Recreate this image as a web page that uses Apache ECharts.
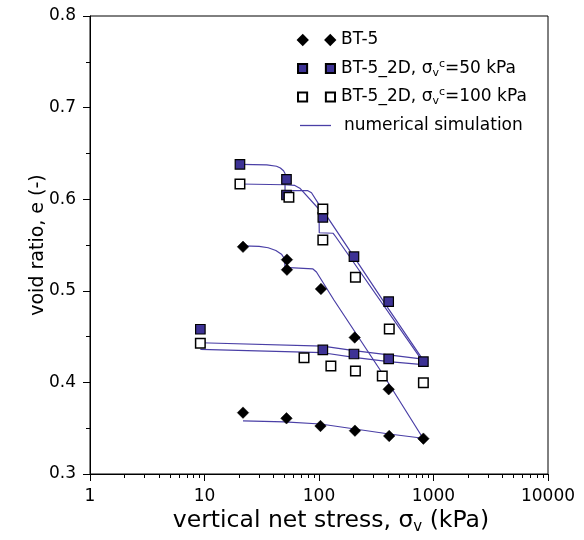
<!DOCTYPE html>
<html><head><meta charset="utf-8">
<script src="https://cdn.jsdelivr.net/npm/echarts@6/dist/echarts.min.js"></script>
<style>html,body{margin:0;padding:0;background:#fff}#c{width:584px;height:540px}</style>
</head><body><div id="c"></div>
<script>
// ---- data (stress in kPa, void ratio e) ----
const bt5Stress = [21.7, 52.5, 52.5, 104, 205, 406, 816, 410, 206, 103, 52, 21.7];
const bt5Void   = [0.548, 0.534, 0.523, 0.502, 0.449, 0.3925, 0.3386, 0.3415, 0.3473, 0.3524, 0.3608, 0.367];
const sq50Stress = [20.4, 52, 52, 108, 202, 406, 816, 406, 202, 108, 9.2];
const sq50Void   = [0.638, 0.6217, 0.6046, 0.5802, 0.5372, 0.4881, 0.4226, 0.4256, 0.431, 0.4354, 0.458];
const sq100Stress = [20.4, 54.6, 108, 108, 208, 411, 816, 357, 208, 127, 74, 9.2];
const sq100Void   = [0.6166, 0.6021, 0.5893, 0.5555, 0.5147, 0.4583, 0.3997, 0.407, 0.4124, 0.4179, 0.427, 0.4427];
// numerical simulation curves
const simBt5LoadX = [21.7, 30, 36, 42, 47, 50, 50.5, 88, 95, 135, 357, 810];
const simBt5LoadY = [0.549, 0.5485, 0.547, 0.544, 0.540, 0.535, 0.5255, 0.524, 0.5205, 0.49, 0.41, 0.339];
const simBt5UnloadX = [810, 410, 206, 103, 50, 21.7];
const simBt5UnloadY = [0.339, 0.3437, 0.3491, 0.3546, 0.357, 0.358];
const sim50LoadX = [20.4, 35, 42.6, 46, 49, 50.5, 50.5, 80, 86, 98.5, 202, 406, 810];
const sim50LoadY = [0.638, 0.6375, 0.636, 0.634, 0.631, 0.628, 0.6093, 0.6093, 0.607, 0.5955, 0.537, 0.48, 0.4245];
const sim100LoadX = [20.4, 50, 61.5, 68, 100, 100.5, 133, 140, 810];
const sim100LoadY = [0.6166, 0.6158, 0.615, 0.612, 0.589, 0.5634, 0.5628, 0.559, 0.4225];
const simUnloadAX = [810, 406, 202, 108, 9.2];
const simUnloadAY = [0.4255, 0.430, 0.4346, 0.4397, 0.4433];
const simUnloadBX = [810, 406, 202, 108, 9.2];
const simUnloadBY = [0.4195, 0.4226, 0.4274, 0.4324, 0.436];
// axis ticks
const xMajorTicks = [1, 10, 100, 1000, 10000];
const xMinorTicks = [2,3,4,5,6,7,8,9,20,30,40,50,60,70,80,90,200,300,400,500,600,700,800,900,2000,3000,4000,5000,6000,7000,8000,9000];
const yMin = 0.3, yMax = 0.8, yStep = 0.1;

const zip = (xs, ys) => xs.map((x, i) => [x, ys[i]]);
const FONT = 'DejaVu Sans';
const LINE_COLOR = '#4a3fa6';
const FILL_BLUE = '#3d3295';

const names = {
  bt5: 'BT-5',
  s50: 'BT-5_2D, σvc=50 kPa',
  s100: 'BT-5_2D, σvc=100 kPa',
  sim: 'numerical simulation'
};
const richNames = {};
richNames[names.bt5] = 'BT-5';
richNames[names.s50] = 'BT-5_2D, {s|σ}{sub|v}{sup|c}=50 kPa';
richNames[names.s100] = 'BT-5_2D, {s|σ}{sub|v}{sup|c}=100 kPa';
richNames[names.sim] = 'numerical simulation';

const LEG_FS = 17;
const richStyle = {
  s: {fontSize: LEG_FS, fontFamily: FONT, color: '#000', lineHeight: 20},
  sub: {fontSize: 11, fontFamily: FONT, color: '#000', verticalAlign: 'bottom', lineHeight: 20},
  sup: {fontSize: 11, fontFamily: FONT, color: '#000', verticalAlign: 'top', lineHeight: 20}
};

const simLine = (xs, ys) => ({
  type: 'line', name: names.sim, data: zip(xs, ys), symbol: 'none', smooth: false,
  lineStyle: {color: LINE_COLOR, width: 1.2}, itemStyle: {color: LINE_COLOR}, z: 2, silent: true
});

const ICON_DIAMOND = 'path://M0,4.75L4.75,0L9.5,4.75L4.75,9.5Z M27.5,4.75L32.25,0L37,4.75L32.25,9.5Z';
const ICON_SQUARE = 'path://M0,0H9V9H0Z M27.5,0H36.5V9H27.5Z';
const legendRow = (name, icon, centerY, extra) => Object.assign({
  orient: 'horizontal', left: 297, top: centerY - 10, itemWidth: 37, itemHeight: 9.5, itemGap: 0,
  data: [{name: name, icon: icon}],
  formatter: n => richNames[n],
  textStyle: {fontFamily: FONT, fontSize: LEG_FS, color: '#000', lineHeight: 20, rich: richStyle, padding: [0, 0, 0, 1]},
  selectedMode: false, padding: 0
}, extra || {});

const chart = echarts.init(document.getElementById('c'), null, {renderer: 'canvas'});
chart.setOption({
  animation: false,
  backgroundColor: '#fff',
  grid: {left: 90, right: 36, top: 16, bottom: 66, show: true, borderColor: '#000', borderWidth: 1,
    backgroundColor: 'transparent', outerBoundsMode: 'none', containLabel: false},
  xAxis: [{
    type: 'log', logBase: 10, min: 1, max: 10000,
    name: 'vertical net stress, {s|σ}{sub|v} (kPa)', nameLocation: 'middle', nameGap: 33, nameMoveOverlap: false,
    nameTextStyle: {fontFamily: FONT, fontSize: 23.5, color: '#000', lineHeight: 28, padding: [0, 0, 0, 24], rich: {
      s: {fontSize: 23.5, fontFamily: FONT, lineHeight: 28}, sub: {fontSize: 15, fontFamily: FONT, verticalAlign: 'bottom', lineHeight: 28}}},
    axisLine: {show: true, lineStyle: {color: '#000', width: 1}},
    axisTick: {show: true, length: 7, lineStyle: {color: '#000'}, customValues: xMajorTicks},
    axisLabel: {fontFamily: FONT, fontSize: 17, color: '#000', margin: 14, customValues: xMajorTicks,
      formatter: v => String(Math.round(v))},
    splitLine: {show: false}, minorTick: {show: false}
  }, {
    type: 'log', logBase: 10, min: 1, max: 10000, position: 'bottom',
    axisLine: {show: false},
    axisTick: {show: true, length: 4, lineStyle: {color: '#000'}, customValues: xMinorTicks},
    axisLabel: {show: false}, splitLine: {show: false}
  }],
  yAxis: {
    type: 'value', min: yMin, max: yMax, interval: yStep,
    name: 'void ratio, e (-)', nameLocation: 'middle', nameGap: 42, nameRotate: 90, nameMoveOverlap: false,
    nameTextStyle: {fontFamily: FONT, fontSize: 19, color: '#000'},
    axisLine: {show: true, lineStyle: {color: '#000', width: 1}},
    axisTick: {show: true, length: 7, lineStyle: {color: '#000'}},
    minorTick: {show: true, splitNumber: 2, length: 4, lineStyle: {color: '#000'}},
    axisLabel: {fontFamily: FONT, fontSize: 17, color: '#000', margin: 14, formatter: v => v.toFixed(1)},
    splitLine: {show: false}
  },
  legend: [
    legendRow(names.bt5, ICON_DIAMOND, 40),
    legendRow(names.s50, ICON_SQUARE, 68.5),
    legendRow(names.s100, ICON_SQUARE, 97),
    legendRow(names.sim, 'path://M0,0H31V1.3H0Z', 125.5, {left: 300, itemWidth: 31, itemHeight: 1.3,
      textStyle: {fontFamily: FONT, fontSize: LEG_FS, color: '#000', lineHeight: 20, padding: [0, 0, 0, 8]}})
  ],
  series: [
    simLine(simBt5LoadX, simBt5LoadY),
    simLine(simBt5UnloadX, simBt5UnloadY),
    simLine(sim50LoadX, sim50LoadY),
    simLine(sim100LoadX, sim100LoadY),
    simLine(simUnloadAX, simUnloadAY),
    simLine(simUnloadBX, simUnloadBY),
    {type: 'scatter', name: names.bt5, data: zip(bt5Stress, bt5Void), symbol: 'diamond', symbolSize: 11.5,
      itemStyle: {color: '#000', borderColor: '#000', borderWidth: 0.5, opacity: 1}, z: 3},
    {type: 'scatter', name: names.s50, data: zip(sq50Stress, sq50Void), symbol: 'rect', symbolSize: 9.5,
      itemStyle: {color: FILL_BLUE, borderColor: '#000', borderWidth: 1.2, opacity: 1}, z: 4},
    {type: 'scatter', name: names.s100, data: zip(sq100Stress, sq100Void), symbol: 'rect', symbolSize: 9.5,
      itemStyle: {color: '#fff', borderColor: '#000', borderWidth: 1.5, opacity: 1}, z: 5}
  ]
});
</script></body></html>
